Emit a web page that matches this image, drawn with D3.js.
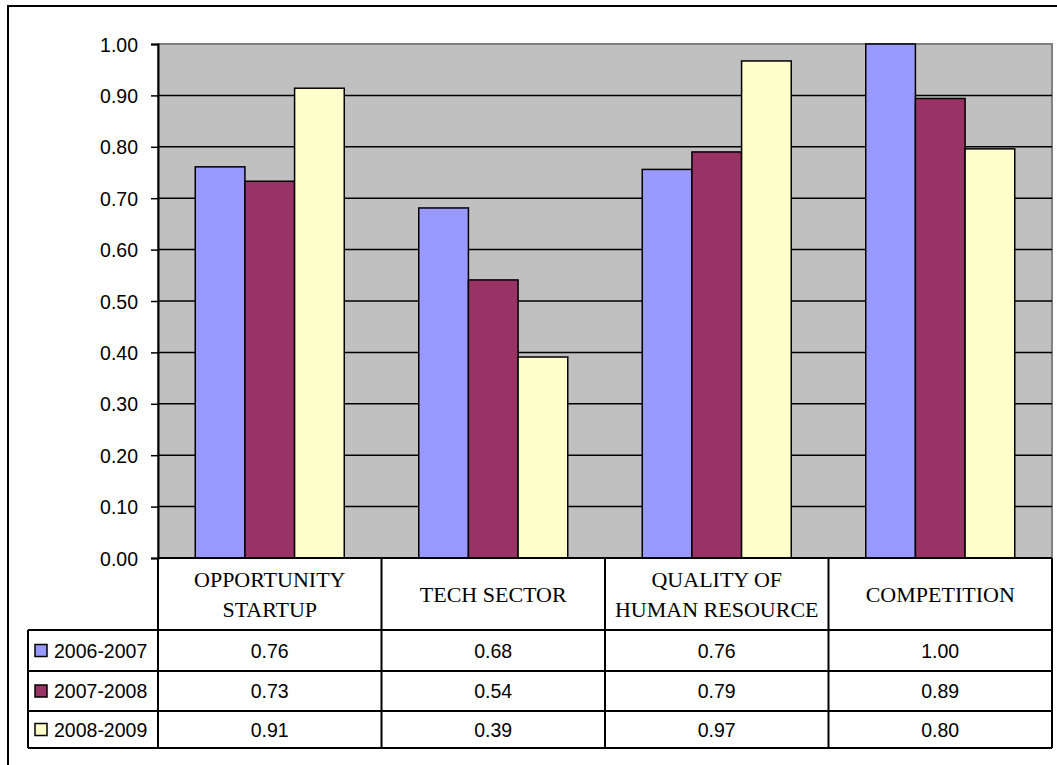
<!DOCTYPE html>
<html lang="en">
<head>
<meta charset="utf-8">
<title>Bar chart with data table</title>
<script src="https://d3js.org/d3.v7.min.js"></script>
<style>
  body { margin: 0; background: #fff; }
  .num { font-family: "Liberation Sans", Arial, sans-serif; font-size: 19.5px; fill: #000; }
  .hdr { font-family: "Liberation Serif", serif; font-size: 22px; fill: #000; }
</style>
</head>
<body>
<div id="chart"></div>
<script>
// chart data
var categories = [["OPPORTUNITY", "STARTUP"], ["TECH SECTOR"], ["QUALITY OF", "HUMAN RESOURCE"], ["COMPETITION"]];
var seriesNames = ["2006-2007", "2007-2008", "2008-2009"];
var seriesColors = ["#9999ff", "#993366", "#ffffcc"];
var values2006 = [0.761, 0.681, 0.756, 1.00];
var values2007 = [0.733, 0.541, 0.79, 0.894];
var values2008 = [0.914, 0.391, 0.967, 0.796];
var yTicks = [0, 0.1, 0.2, 0.3, 0.4, 0.5, 0.6, 0.7, 0.8, 0.9, 1.0];

var seriesValues = [values2006, values2007, values2008];
var catKeys = categories.map(function(c) { return c.join(" "); });

var W = 1057, H = 765;
var plot = {left: 158, right: 1052, top: 44, bottom: 558};
var rowTops = [630, 671, 711, 748];
var legendLeft = 28;

var svg = d3.select("#chart").append("svg")
  .attr("width", W).attr("height", H);

// outer frame (runs past the picture edge)
svg.append("rect")
  .attr("x", 8).attr("y", 6)
  .attr("width", W + 20).attr("height", H + 20)
  .attr("fill", "#fff").attr("stroke", "#000").attr("stroke-width", 2);

var x = d3.scaleBand().domain(catKeys).range([plot.left, plot.right]);
var xs = d3.scaleBand().domain(seriesNames).range([0, x.bandwidth()])
  .paddingInner(0).paddingOuter(0.75);
var y = d3.scaleLinear().domain([0, 1]).range([plot.bottom, plot.top]);

// plot background
svg.append("rect")
  .attr("x", plot.left).attr("y", plot.top)
  .attr("width", plot.right - plot.left).attr("height", plot.bottom - plot.top)
  .attr("fill", "#c0c0c0").attr("stroke", "#808080").attr("stroke-width", 2);

// gridlines
svg.append("g").selectAll("line")
  .data(yTicks.filter(function(d) { return d > 0 && d < 1; }))
  .enter().append("line")
    .attr("x1", plot.left).attr("x2", plot.right)
    .attr("y1", function(d) { return y(d); }).attr("y2", function(d) { return y(d); })
    .attr("stroke", "#000").attr("stroke-width", 1.5);

// bars
seriesNames.forEach(function(s, i) {
  svg.append("g").selectAll("rect")
    .data(seriesValues[i])
    .enter().append("rect")
      .attr("x", function(d, j) { return x(catKeys[j]) + xs(s); })
      .attr("y", function(d) { return y(d); })
      .attr("width", xs.bandwidth())
      .attr("height", function(d) { return y(0) - y(d); })
      .attr("fill", seriesColors[i])
      .attr("stroke", "#000").attr("stroke-width", 1.5);
});

// y axis
var yAxis = svg.append("g")
  .attr("transform", "translate(" + plot.left + ",0)")
  .call(d3.axisLeft(y).tickValues(yTicks).tickFormat(d3.format(".2f")).tickSize(7).tickPadding(13));
yAxis.select(".domain").attr("stroke-width", 2);
yAxis.selectAll(".tick line").attr("stroke-width", 1.5);
yAxis.selectAll("text").attr("class", "num").attr("font-family", null).attr("font-size", null)
  .attr("dy", "0.36em");

// data table
var tbl = svg.append("g").attr("stroke", "#000").attr("stroke-width", 2);
// header bottom + row lines
rowTops.forEach(function(ry) {
  tbl.append("line").attr("x1", legendLeft).attr("x2", plot.right).attr("y1", ry).attr("y2", ry);
});
tbl.append("line").attr("x1", plot.left).attr("x2", plot.right).attr("y1", plot.bottom).attr("y2", plot.bottom);
// verticals
catKeys.forEach(function(k) {
  tbl.append("line").attr("x1", x(k)).attr("x2", x(k)).attr("y1", plot.bottom).attr("y2", rowTops[3]);
});
tbl.append("line").attr("x1", plot.right).attr("x2", plot.right).attr("y1", plot.bottom).attr("y2", rowTops[3]);
tbl.append("line").attr("x1", legendLeft).attr("x2", legendLeft).attr("y1", rowTops[0]).attr("y2", rowTops[3]);

// header labels
categories.forEach(function(lines, j) {
  var cx = x(catKeys[j]) + x.bandwidth() / 2;
  var cy = (plot.bottom + rowTops[0]) / 2;
  var t = svg.append("text").attr("class", "hdr").attr("text-anchor", "middle");
  lines.forEach(function(l, k) {
    t.append("tspan").attr("x", cx)
      .attr("y", cy + (k - (lines.length - 1) / 2) * 30 + 8)
      .text(l);
  });
});

// table rows
var fmt = d3.format(".2f");
seriesNames.forEach(function(s, i) {
  var top = rowTops[i], bot = rowTops[i + 1];
  var cy = (top + bot) / 2;
  svg.append("rect")
    .attr("x", 35).attr("y", cy - 6)
    .attr("width", 12).attr("height", 12)
    .attr("fill", seriesColors[i]).attr("stroke", "#000").attr("stroke-width", 1.5);
  svg.append("text").attr("class", "num")
    .attr("x", 54).attr("y", cy + 7)
    .text(s);
  seriesValues[i].forEach(function(v, j) {
    svg.append("text").attr("class", "num")
      .attr("x", x(catKeys[j]) + x.bandwidth() / 2)
      .attr("y", cy + 7)
      .attr("text-anchor", "middle")
      .text(fmt(v));
  });
});
</script>
</body>
</html>
